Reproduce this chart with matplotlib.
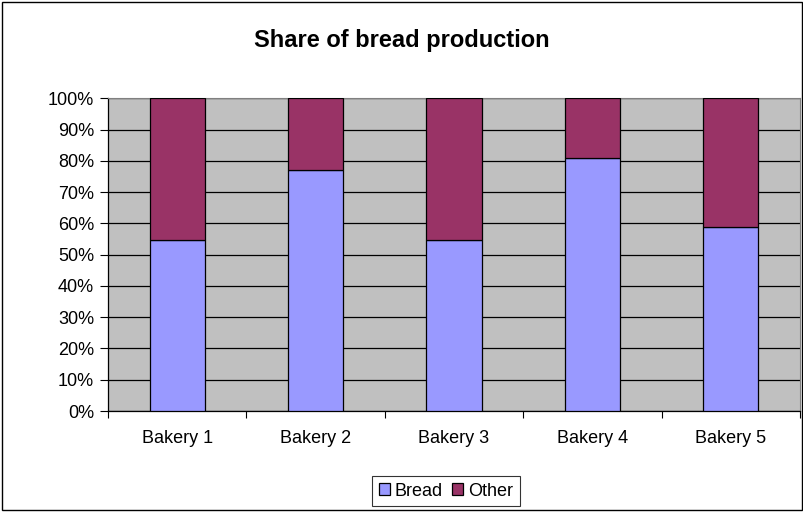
"""Share of bread production, 100% stacked columns."""

import matplotlib
matplotlib.use('Agg')
import matplotlib.pyplot as plt
from matplotlib.patches import Rectangle
from matplotlib.ticker import PercentFormatter, FixedLocator
import numpy as np

# Data
bakeries = ['Bakery 1', 'Bakery 2', 'Bakery 3', 'Bakery 4', 'Bakery 5']
bread = [54.6, 77.1, 54.7, 80.8, 58.9]
other = [100 - b for b in bread]

plt.rcParams['font.family'] = ['Liberation Sans', 'DejaVu Sans']

fig = plt.figure(figsize=(8.04, 5.12), dpi=100)
ax = fig.add_axes([108 / 804, (512 - 411) / 512, (800 - 108) / 804, (411 - 98.3) / 512])
ax.set_facecolor('#C0C0C0')

x = np.arange(len(bakeries))
ax.bar(x, bread, width=0.4, color='#9999FF', edgecolor='black', linewidth=0.9,
       label='Bread', zorder=3)
ax.bar(x, other, bottom=bread, width=0.4, color='#993366', edgecolor='black',
       linewidth=0.9, label='Other', zorder=3)

ax.set_xlim(-0.5, len(bakeries) - 0.5)
ax.set_ylim(0, 100)
ax.set_yticks(np.arange(0, 101, 10))
ax.yaxis.set_major_formatter(PercentFormatter(decimals=0))
ax.grid(axis='y', color='black', linewidth=0.9, zorder=1)
ax.set_axisbelow(True)

# category labels centred, tick marks between categories
ax.set_xticks(x)
ax.set_xticklabels(bakeries)
ax.tick_params(axis='x', length=0, labelsize=13, pad=14)
ax.xaxis.set_minor_locator(FixedLocator(np.arange(-0.5, len(bakeries), 1)))
ax.tick_params(axis='x', which='minor', length=5, width=0.8, color='black')
ax.tick_params(axis='y', length=6, width=0.8, labelsize=13, pad=4)

for s in ['left', 'bottom']:
    ax.spines[s].set_color('black')
    ax.spines[s].set_linewidth(0.9)
for s in ['top', 'right']:
    ax.spines[s].set_color('#808080')
    ax.spines[s].set_linewidth(0.8)

fig.text(0.5, 1 - 40 / 512, 'Share of bread production', ha='center', va='center',
         fontsize=17, fontweight='bold')

leg = ax.legend(loc='center', bbox_to_anchor=(446 / 804, 1 - 491 / 512),
                bbox_transform=fig.transFigure, ncol=2, frameon=True, fancybox=False,
                edgecolor='black', fontsize=13, handlelength=0.6, handleheight=0.6,
                handletextpad=0.3, columnspacing=0.5, borderpad=0.35, borderaxespad=0)
leg.get_frame().set_linewidth(0.8)

# outer chart border
fig.patches.append(Rectangle((0.003, 0.003), 0.994, 0.994, transform=fig.transFigure,
                             fill=False, edgecolor='black', linewidth=1))

fig.savefig('out.png', dpi=100)
